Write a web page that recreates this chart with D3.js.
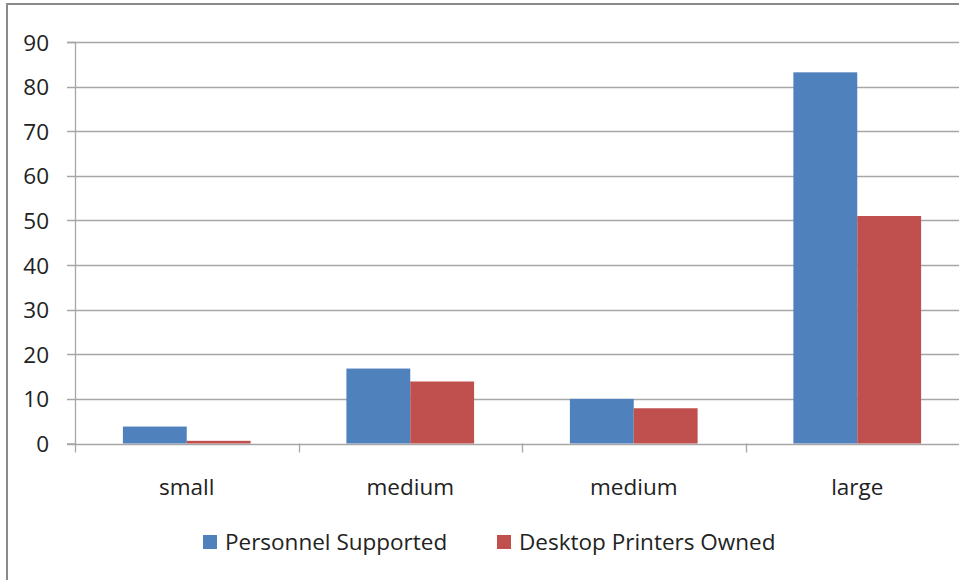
<!DOCTYPE html>
<html>
<head>
<meta charset="utf-8">
<script src="https://cdn.jsdelivr.net/npm/d3@7"></script>
<style>
body { margin: 0; background: #fff; }
svg text { font-family: "Open Sans", Lato, sans-serif; fill: #222; }
</style>
</head>
<body>
<script>
var categories = ["small", "medium", "medium", "large"];
var personnel = [3.8, 16.8, 10, 83.2];
var printers = [0.6, 13.9, 7.9, 51];
var seriesNames = ["Personnel Supported", "Desktop Printers Owned"];
var colors = ["#4F81BD", "#C0504D"];
var yTicks = [0, 10, 20, 30, 40, 50, 60, 70, 80, 90];

var w = 959;
var h = 580;
var plotLeft = 75, plotRight = 969, plotTop = 42, plotBottom = 443.5;
var fontSize = 22.5;

var svg = d3.select("body")
            .append("svg")
            .attr("width", w)
            .attr("height", h);

// outer chart border (runs off the right and bottom of the picture)
svg.append("rect")
   .attr("x", 7).attr("y", 4)
   .attr("width", 1000).attr("height", 600)
   .attr("fill", "none")
   .attr("stroke", "#8a8a8a")
   .attr("stroke-width", 2);

var x = d3.scaleBand()
          .domain(d3.range(categories.length))
          .range([plotLeft, plotRight]);

var y = d3.scaleLinear()
          .domain([0, 90])
          .range([plotBottom, plotTop]);

// gridlines
svg.append("g")
   .selectAll("line")
   .data(yTicks)
   .enter()
   .append("line")
   .attr("x1", plotLeft - 8)
   .attr("x2", w)
   .attr("y1", function(d){ return Math.round(y(d)) + 0.5; })
   .attr("y2", function(d){ return Math.round(y(d)) + 0.5; })
   .attr("stroke", "#a6a6a6")
   .attr("stroke-width", 1.3);

// y axis
var yAxis = svg.append("g")
   .attr("transform", "translate(" + plotLeft + ",0)")
   .call(d3.axisLeft(y).tickValues(yTicks).tickSize(8).tickPadding(18));
yAxis.select(".domain").attr("stroke", "#a6a6a6").attr("stroke-width", 1.3);
yAxis.selectAll(".tick line").remove();
yAxis.selectAll("text")
     .attr("font-size", fontSize)
     .attr("font-family", "'Open Sans', sans-serif")
     .attr("fill", "#222")
     .attr("dy", "0.36em");

// x axis ticks at category boundaries
svg.append("g")
   .selectAll("line")
   .data(d3.range(categories.length + 1))
   .enter()
   .append("line")
   .attr("x1", function(d){ return Math.round(plotLeft + d * x.step()) + 0.5; })
   .attr("x2", function(d){ return Math.round(plotLeft + d * x.step()) + 0.5; })
   .attr("y1", plotBottom)
   .attr("y2", plotBottom + 9)
   .attr("stroke", "#a6a6a6")
   .attr("stroke-width", 1.3);

// bars
var barW = x.bandwidth() / (2 + 1.5);
var gap = barW * 0.75;
var data = [personnel, printers];

data.forEach(function(series, s){
  svg.append("g")
     .selectAll("rect")
     .data(series)
     .enter()
     .append("rect")
     .attr("x", function(d, i){ return x(i) + gap + s * barW; })
     .attr("y", function(d){ return y(d); })
     .attr("width", barW)
     .attr("height", function(d){ return plotBottom - y(d); })
     .attr("fill", colors[s]);
});

// category labels
svg.append("g")
   .selectAll("text")
   .data(categories)
   .enter()
   .append("text")
   .text(function(d){ return d; })
   .attr("x", function(d, i){ return x(i) + x.bandwidth() / 2; })
   .attr("y", 495)
   .attr("text-anchor", "middle")
   .attr("font-size", fontSize);

// legend
var legendX = [203, 497];
seriesNames.forEach(function(name, s){
  svg.append("rect")
     .attr("x", legendX[s]).attr("y", 535)
     .attr("width", 14).attr("height", 14)
     .attr("fill", colors[s]);
  svg.append("text")
     .attr("x", legendX[s] + 22)
     .attr("y", 550)
     .attr("font-size", fontSize)
     .text(name);
});
</script>
</body>
</html>
